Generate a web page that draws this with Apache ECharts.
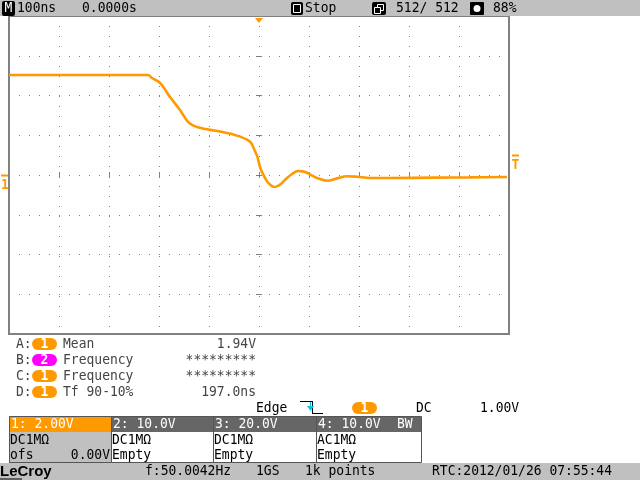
<!DOCTYPE html>
<html><head><meta charset="utf-8">
<script src="https://cdn.jsdelivr.net/npm/echarts@6/dist/echarts.min.js"></script>
<style>html,body{margin:0;padding:0;background:#fff}#c{width:640px;height:480px}</style>
</head><body><div id="c"></div><script>
// Channel 1 trace: time (ns, relative to trigger) and voltage (V)
const timeNs = [-500,-222,-214,-198,-178,-158,-142,-132,-124,-110,-98,-80,-64,-50,-38,-24,-16,-8,-3,2,8,16,22,30,38,46,56,66,78,90,100,116,136,156,176,196,222,262,350,420,496];
const volts  = [5.03,5.03,4.88,4.63,3.92,3.27,2.67,2.50,2.42,2.33,2.27,2.20,2.11,2.03,1.93,1.78,1.62,1.20,0.90,0.40,0.05,-0.32,-0.48,-0.60,-0.55,-0.40,-0.15,0.05,0.20,0.17,0.06,-0.15,-0.29,-0.17,-0.06,-0.09,-0.15,-0.15,-0.13,-0.12,-0.10];
const timeRange = [-500, 500];   // 100 ns/div, 10 divisions
const timeStep = 100;
const voltRange = [-8, 8];       // 2.00 V/div, 8 divisions
const voltStep = 2;

const measLetters = ['A:', 'B:', 'C:', 'D:'];
const measChannels = ['1', '2', '1', '1'];
const measNames = ['Mean', 'Frequency', 'Frequency', 'Tf 90-10%'];
const measValues = ['1.94V', '*********', '*********', '197.0ns'];

const chTitles = ['1: 2.00V', '2: 10.0V', '3: 20.0V', '4: 10.0V'];
const chCoupling = ['DC1M\u03A9', 'DC1M\u03A9', 'DC1M\u03A9', 'AC1M\u03A9'];
const chLine2 = ['ofs', 'Empty', 'Empty', 'Empty'];

const ORANGE = '#ff9900';
const MONO = "'DejaVu Sans Mono', 'Liberation Mono', monospace";
const G = '#808080';

function txt(x, y, s, o) {
  o = o || {};
  return { type: 'text', x: x, y: y, z: 100, silent: true, scaleY: o.sy || 1.08,
    style: { text: s, fill: o.fill || '#000', font: (o.weight || 'normal') + ' ' + (o.size || 13) + 'px ' + (o.family || MONO),
      textAlign: o.align || 'left', textVerticalAlign: 'middle' } };
}
function rect(x, y, w, h, fill, o) {
  o = o || {};
  return { type: 'rect', z: o.z || 90, silent: true, shape: { x: x, y: y, width: w, height: h, r: o.r || 0 },
    style: { fill: fill, stroke: o.stroke || null, lineWidth: o.lw || 1 } };
}
function line(x1, y1, x2, y2, color, w) {
  return { type: 'line', z: 95, silent: true, shape: { x1: x1, y1: y1, x2: x2, y2: y2 }, style: { stroke: color, lineWidth: w || 1 } };
}

const gfx = [];
// top status bar
gfx.push(rect(0, 0, 640, 16, '#c0c0c0'));
gfx.push(rect(2, 1, 13, 15, '#000', { r: 2 }));
gfx.push(txt(8.5, 8.5, 'M', { fill: '#fff', align: 'center' }));
gfx.push(txt(17, 8.5, '100ns'));
gfx.push(txt(82, 8.5, '0.0000s'));
gfx.push(rect(291, 2, 12, 13, '#000', { r: 2 }));
gfx.push(rect(293.5, 4.5, 7, 8, '#000', { stroke: '#fff', lw: 1 }));
gfx.push(txt(305, 8.5, 'Stop'));
gfx.push(rect(372, 2, 14, 13, '#000', { r: 2 }));
gfx.push(rect(377.5, 4.5, 6, 6, '#000', { stroke: '#fff', lw: 1 }));
gfx.push(rect(374.5, 7.5, 6, 6, '#000', { stroke: '#fff', lw: 1 }));
gfx.push(txt(396, 8.5, '512/ 512'));
gfx.push(rect(470, 2, 14, 13, '#000', { r: 1 }));
gfx.push({ type: 'circle', z: 95, silent: true, shape: { cx: 477, cy: 8.5, r: 3.5 }, style: { fill: '#fff' } });
gfx.push(txt(493, 8.5, '88%'));

// trigger position marker & level markers
gfx.push({ type: 'polygon', z: 95, silent: true, shape: { points: [[255, 18], [263, 18], [259, 23]] }, style: { fill: ORANGE } });
gfx.push(line(1, 175.5, 8, 175.5, ORANGE, 2));
gfx.push(txt(5, 185, '1', { fill: ORANGE, weight: 'bold', align: 'center' }));
gfx.push(line(512, 155.5, 519, 155.5, ORANGE, 2));
gfx.push(txt(515.5, 165, 'T', { fill: ORANGE, weight: 'bold', align: 'center' }));

// measurement rows
const rowY = [344, 360, 376, 392];
for (let i = 0; i < 4; i++) {
  const y = rowY[i];
  gfx.push(txt(16, y, measLetters[i], { fill: '#444' }));
  gfx.push(rect(32, y - 6, 25, 12, measChannels[i] === '2' ? '#ff00ff' : ORANGE, { r: 6 }));
  gfx.push(txt(44.5, y, measChannels[i], { fill: '#fff', weight: 'bold', align: 'center' }));
  gfx.push(txt(63, y, measNames[i], { fill: '#444' }));
  gfx.push(txt(256, y, measValues[i], { fill: '#444', align: 'right' }));
}

// trigger row
gfx.push(txt(256, 408, 'Edge'));
gfx.push(line(300, 401.5, 312, 401.5, '#000', 1));
gfx.push(line(312.5, 401, 312.5, 414, '#000', 1));
gfx.push(line(312, 413.5, 323, 413.5, '#000', 1));
gfx.push(line(310.5, 402, 310.5, 409, '#00c8e8', 1));
gfx.push({ type: 'polygon', z: 96, silent: true, shape: { points: [[307, 406], [314, 406], [310.5, 411]] }, style: { fill: '#00c8e8' } });
gfx.push(rect(352, 402, 25, 12, ORANGE, { r: 6 }));
gfx.push(txt(364.5, 408, '1', { fill: '#fff', weight: 'bold', align: 'center' }));
gfx.push(txt(416, 408, 'DC'));
gfx.push(txt(480, 408, '1.00V'));

// channel boxes
const boxX = [9, 111, 213, 316, 421];
for (let i = 0; i < 4; i++) {
  const x0 = boxX[i], w = boxX[i + 1] - boxX[i];
  gfx.push(rect(x0, 416, w, 16, i === 0 ? ORANGE : '#666'));
  gfx.push(rect(x0, 432, w, 31, i === 0 ? '#c0c0c0' : '#fff'));
  gfx.push(rect(x0 + 0.5, 416.5, w, 46, 'none', { stroke: '#555', lw: 1, z: 92 }));
  gfx.push(txt(x0 + 2, 424.5, chTitles[i], { fill: '#fff' }));
  gfx.push(txt(x0 + 1, 440, chCoupling[i]));
  gfx.push(txt(x0 + 1, 455, chLine2[i]));
}
gfx.push(txt(110, 455, '0.00V', { align: 'right' }));
gfx.push(txt(397, 424.5, 'BW', { fill: '#fff' }));

// bottom status bar
gfx.push(rect(0, 463, 640, 17, '#c0c0c0'));
gfx.push(txt(0, 471.5, 'LeCroy', { weight: 'bold', size: 15, family: "'Liberation Sans', Arial, sans-serif", sy: 1.0 }));
gfx.push(line(0, 479, 22, 479, '#000', 1));
gfx.push(txt(145, 471.5, 'f:50.0042Hz'));
gfx.push(txt(256, 471.5, '1GS'));
gfx.push(txt(305, 471.5, '1k points'));
gfx.push(txt(432, 471.5, 'RTC:2012/01/26 07:55:44'));

const dotted = { color: G, width: 1, type: [1, 9], dashOffset: 0 };
function centerX(pos) {
  return { type: 'value', min: timeRange[0], max: timeRange[1], interval: timeStep, position: pos,
    axisLine: { show: true, onZero: true, lineStyle: { color: 'rgba(0,0,0,0)' } },
    axisTick: { show: true, length: 3, lineStyle: { color: G, width: 1 } },
    axisLabel: { show: false }, splitLine: { show: false } };
}
function centerY(pos) {
  return { type: 'value', min: voltRange[0], max: voltRange[1], interval: voltStep, position: pos,
    axisLine: { show: true, onZero: true, lineStyle: { color: 'rgba(0,0,0,0)' } },
    axisTick: { show: true, length: 3, lineStyle: { color: G, width: 1 } },
    axisLabel: { show: false }, splitLine: { show: false } };
}
const xa0 = centerX('bottom'); xa0.splitLine = { show: true, lineStyle: dotted };
const ya0 = centerY('left'); ya0.splitLine = { show: true, lineStyle: dotted };

const chart = echarts.init(document.getElementById('c'), null, { renderer: 'canvas' });
chart.setOption({
  animation: false,
  backgroundColor: '#fff',
  grid: { left: 9, top: 16, width: 500, height: 318, show: true, borderColor: G, borderWidth: 2, backgroundColor: 'transparent' },
  xAxis: [xa0, centerX('top')],
  yAxis: [ya0, centerY('right')],
  series: [{
    type: 'line', xAxisIndex: 0, yAxisIndex: 0, showSymbol: false, symbol: 'none', smooth: 0.35,
    data: timeNs.map((t, i) => [t, volts[i]]),
    lineStyle: { color: ORANGE, width: 2.6 }, z: 10
  }],
  graphic: gfx
});
</script></body></html>
